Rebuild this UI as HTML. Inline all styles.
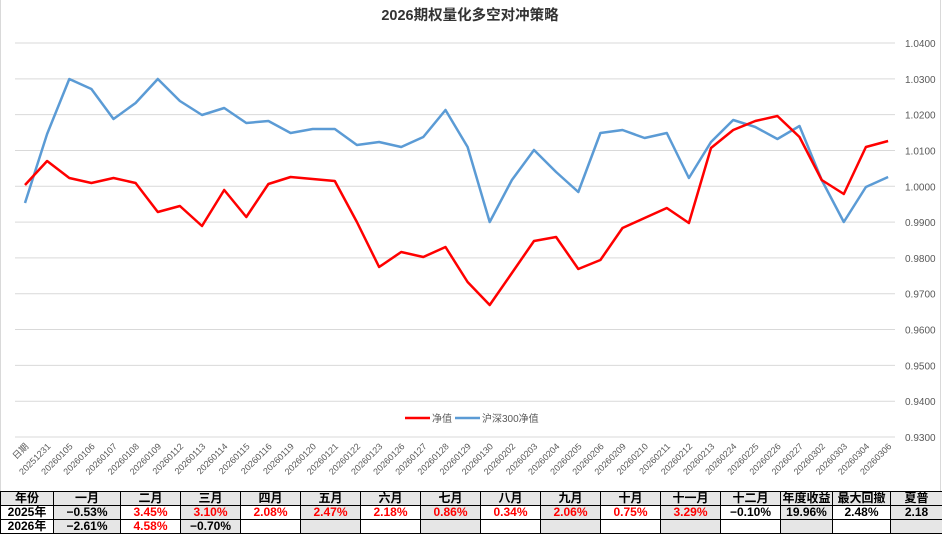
<!DOCTYPE html>
<html><head><meta charset="utf-8"><style>
body{margin:0;width:942px;height:534px;overflow:hidden;background:#fff;font-family:"Liberation Sans","Noto Sans CJK SC",sans-serif;}
svg{position:absolute;left:0;top:0}
table{position:absolute;left:0;top:491px;border-collapse:collapse;table-layout:fixed;width:942px}
td{border:1px solid #000;height:13px;padding:0;text-align:center;font-weight:bold;font-size:12px;line-height:13px;white-space:nowrap;overflow:hidden}
.g{background:#e6e6e6}.r{color:#f00}
</style></head><body>
<svg width="942" height="491" xmlns="http://www.w3.org/2000/svg">
<line x1="0.5" y1="0" x2="0.5" y2="491" stroke="#d9d9d9"/>
<line x1="940.5" y1="0" x2="940.5" y2="491" stroke="#d9d9d9"/>
<text x="470" y="20" text-anchor="middle" font-size="14.5" font-weight="bold" fill="#333" font-family="Liberation Sans,Noto Sans CJK SC,sans-serif">2026期权量化多空对冲策略</text>
<g stroke="#d9d9d9" stroke-width="1" id="grid"></g>
<g font-size="10" fill="#595959" id="ylab"></g>
<g font-size="9" fill="#595959" id="xlab"></g>
<polyline id="blue" fill="none" stroke="#5b9bd5" stroke-width="2.5" stroke-linejoin="round"/>
<polyline id="red" fill="none" stroke="#ff0000" stroke-width="2.5" stroke-linejoin="round"/>
<line x1="405" y1="418" x2="430" y2="418" stroke="#ff0000" stroke-width="2.5"/>
<text x="432" y="422" font-size="10" fill="#595959">净值</text>
<line x1="455" y1="418" x2="480" y2="418" stroke="#5b9bd5" stroke-width="2.5"/>
<text x="482" y="422" font-size="10" fill="#595959">沪深300净值</text>
</svg>
<table>
<colgroup><col style="width:53px"><col style="width:67px"><col style="width:60px"><col style="width:60px"><col style="width:60px"><col style="width:60px"><col style="width:60px"><col style="width:60px"><col style="width:60px"><col style="width:60px"><col style="width:60px"><col style="width:60px"><col style="width:60px"><col style="width:52px"><col style="width:58px"><col style="width:52px"></colgroup>
<tr class="g"><td>年份</td><td>一月</td><td>二月</td><td>三月</td><td>四月</td><td>五月</td><td>六月</td><td>七月</td><td>八月</td><td>九月</td><td>十月</td><td>十一月</td><td>十二月</td><td>年度收益</td><td>最大回撤</td><td>夏普</td></tr>
<tr><td>2025年</td><td class="g">−0.53%</td><td class="r">3.45%</td><td class="g r">3.10%</td><td class="r">2.08%</td><td class="g r">2.47%</td><td class="r">2.18%</td><td class="g r">0.86%</td><td class="r">0.34%</td><td class="g r">2.06%</td><td class="r">0.75%</td><td class="g r">3.29%</td><td>−0.10%</td><td class="g">19.96%</td><td>2.48%</td><td class="g">2.18</td></tr>
<tr><td>2026年</td><td class="g">−2.61%</td><td class="r">4.58%</td><td class="g">−0.70%</td><td></td><td class="g"></td><td></td><td class="g"></td><td></td><td class="g"></td><td></td><td class="g"></td><td></td><td class="g"></td><td></td><td class="g"></td></tr>
</table>
<script>
var NS="http://www.w3.org/2000/svg";
function el(t,a,p,txt){var e=document.createElementNS(NS,t);for(var k in a)e.setAttribute(k,a[k]);if(txt)e.textContent=txt;document.getElementById(p).appendChild(e);}
for(var i=0;i<12;i++){var v=1.04-i*0.01,y=43+i*35.82;el("line",{x1:15,x2:895,y1:y,y2:y},"grid");el("text",{x:905,y:y+4},"ylab",v.toFixed(4));}
var d=["日期","20251231","20260105","20260106","20260107","20260108","20260109","20260112","20260113","20260114","20260115","20260116","20260119","20260120","20260121","20260122","20260123","20260126","20260127","20260128","20260129","20260130","20260202","20260203","20260204","20260205","20260206","20260209","20260210","20260211","20260212","20260213","20260224","20260225","20260226","20260227","20260302","20260303","20260304","20260306"];
var red=[185,161,178,183,178,183,212,206,226,190,217,184,177,179,181,222,267,252,257,247,282,305,273,241,237,269,260,228,218,208,223,148,130,121,116,137,180,194,147,141];
var blue=[203,134,79,89,119,103,79,101,115,108,123,121,133,129,129,145,142,147,137,110,147,222,180,150,172,192,133,130,138,133,178,142,120,127,139,126,180,222,187,177];
function pts(a){return a.map(function(y,i){return (25+22.13*i).toFixed(1)+","+y}).join(" ");}
document.getElementById("red").setAttribute("points",pts(red));
document.getElementById("blue").setAttribute("points",pts(blue));
d.forEach(function(s,i){var x=25+22.13*i+4,y=447;el("text",{x:x,y:y,"text-anchor":"end",transform:"rotate(-45 "+x+" "+y+")"},"xlab",s);});
</script>
</body></html>
